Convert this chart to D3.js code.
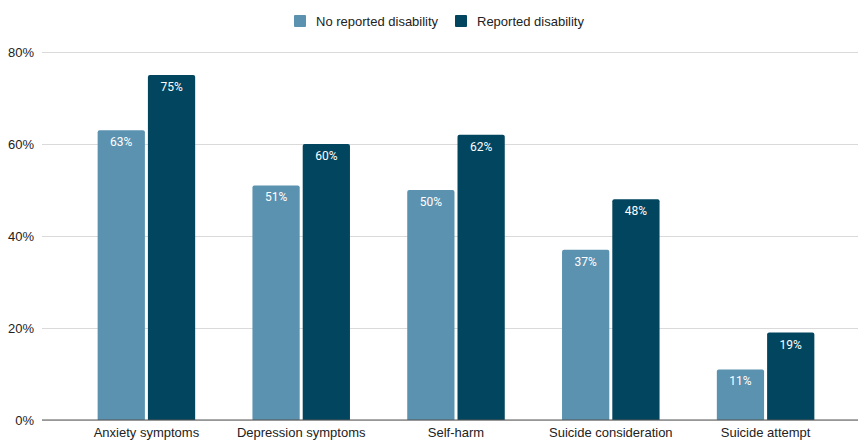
<!DOCTYPE html>
<html>
<head>
<meta charset="utf-8">
<script src="https://cdn.jsdelivr.net/npm/d3@7"></script>
<style>
  body { margin: 0; background: #fff; }
  svg { display: block; font-family: "Liberation Sans", Arial, sans-serif; }
</style>
</head>
<body>
<div id="chart"></div>
<script>
// data
var categories = ['Anxiety symptoms', 'Depression symptoms', 'Self-harm', 'Suicide consideration', 'Suicide attempt'];
var seriesNames = ['No reported disability', 'Reported disability'];
var noDisability = [63, 51, 50, 37, 11];
var withDisability = [75, 60, 62, 48, 19];
var yTicks = [0, 20, 40, 60, 80];
var colors = ['#5b92b0', '#02455f'];

var width = 858, height = 440;
var margin = { top: 52, right: 0, bottom: 20, left: 42 };

var svg = d3.select('#chart').append('svg')
  .attr('width', width)
  .attr('height', height);

var y = d3.scaleLinear().domain([0, 80]).range([height - margin.bottom, margin.top]);

var x0 = d3.scaleBand().domain(categories).range([69, 843])
  .paddingInner(0.37).paddingOuter(0.185);
var x1 = d3.scaleBand().domain(seriesNames).range([0, x0.bandwidth()]).paddingInner(0.06);

// gridlines + y labels
var yAxis = svg.append('g')
  .attr('transform', 'translate(' + margin.left + ',0)')
  .call(d3.axisLeft(y).tickValues(yTicks).tickSize(-(width - margin.left)).tickPadding(8)
    .tickFormat(function(d) { return d + '%'; }));
yAxis.select('.domain').remove();
yAxis.selectAll('.tick line').attr('stroke', '#dadada');
yAxis.selectAll('.tick text')
  .attr('fill', '#222').attr('font-size', 13).attr('x', -8);

var rows = categories.map(function(c, i) {
  return { cat: c, values: [noDisability[i], withDisability[i]] };
});

var groups = svg.selectAll('.group').data(rows).enter().append('g')
  .attr('transform', function(d) { return 'translate(' + x0(d.cat) + ',0)'; });

var bars = groups.selectAll('g.bar')
  .data(function(d) { return d.values.map(function(v, j) { return { name: seriesNames[j], value: v, j: j }; }); })
  .enter().append('g').attr('class', 'bar');

bars.append('path')
  .attr('fill', function(d) { return colors[d.j]; })
  .attr('d', function(d) {
    var x = x1(d.name), w = x1.bandwidth(), top = y(d.value), bottom = y(0), r = 2;
    return 'M' + x + ',' + bottom + 'V' + (top + r) + 'Q' + x + ',' + top + ' ' + (x + r) + ',' + top +
      'H' + (x + w - r) + 'Q' + (x + w) + ',' + top + ' ' + (x + w) + ',' + (top + r) + 'V' + bottom + 'Z';
  });

bars.append('text')
  .attr('x', function(d) { return x1(d.name) + x1.bandwidth() / 2; })
  .attr('y', function(d) { return y(d.value) + 16; })
  .attr('text-anchor', 'middle')
  .attr('fill', '#fff')
  .attr('font-family', 'Roboto, sans-serif')
  .attr('font-size', 12)
  .text(function(d) { return d.value + '%'; });

// baseline
svg.append('line')
  .attr('x1', margin.left).attr('x2', width)
  .attr('y1', y(0)).attr('y2', y(0))
  .attr('stroke', '#555').attr('stroke-width', 1);

// x labels
var xAxis = svg.append('g')
  .attr('transform', 'translate(0,' + y(0) + ')')
  .call(d3.axisBottom(x0).tickSize(0).tickPadding(8));
xAxis.select('.domain').remove();
xAxis.selectAll('.tick text').attr('fill', '#222').attr('font-size', 13);

// legend
var legend = svg.append('g');
var legendX = [294, 455];
seriesNames.forEach(function(name, i) {
  var g = legend.append('g').attr('transform', 'translate(' + legendX[i] + ',15)');
  g.append('rect').attr('width', 12).attr('height', 12).attr('rx', 1).attr('fill', colors[i]);
  g.append('text').attr('x', 22).attr('y', 10.5).attr('font-size', 13).attr('fill', '#222').text(name);
});
</script>
</body>
</html>
